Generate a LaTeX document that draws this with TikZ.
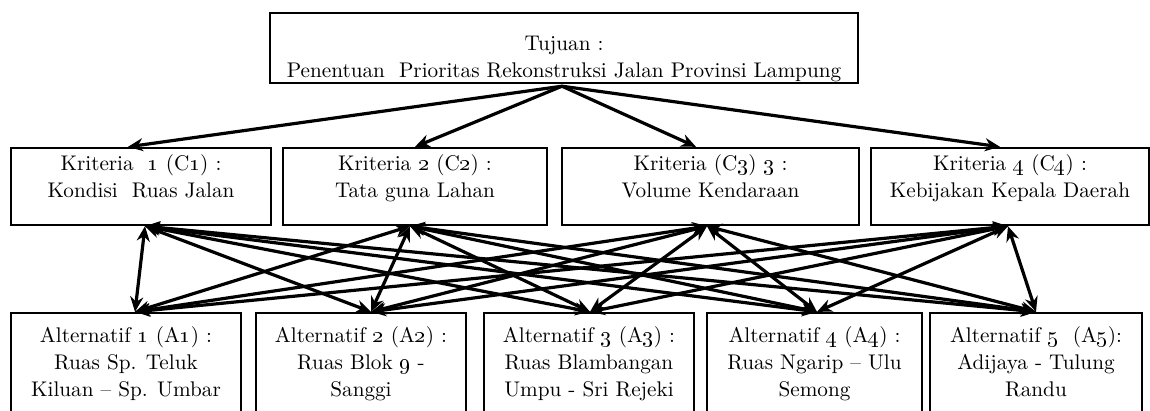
\documentclass[tikz,border=0pt]{standalone}
\usetikzlibrary{arrows.meta}
\newcommand\osn[1]{\oldstylenums{#1}}
\newcommand\txbig[1]{\scalebox{2}{\fontsize{10.6}{13.4}\selectfont\begin{tabular}{@{}c@{}}#1\end{tabular}}}
\begin{document}
\begin{tikzpicture}[x=1pt,y=-1pt,
  box/.style={draw, line width=2.4pt, inner sep=0pt},
  txt/.style={align=center, inner sep=0pt},
  arr/.style={line width=3.2pt, -{Stealth[length=15pt,width=13pt]}},
  darr/.style={line width=3.2pt, {Stealth[length=15pt,width=13pt]}-{Stealth[length=15pt,width=13pt]}}]
\clip (0,0) rectangle (1150,410);
\useasboundingbox (0,0) rectangle (1150,410);

% goal
\node[box, minimum width=588pt, minimum height=70pt] (goal) at (564,48) {};
\node[txt] (goalt) at (564,58.5) {\txbig{Tujuan :\\Penentuan\ \ Prioritas Rekonstruksi Jalan Provinsi Lampung}};

% criteria
\node[box, minimum width=260pt, minimum height=77pt] (c1) at (141,186.5) {};
\node[box, minimum width=264pt, minimum height=77pt] (c2) at (415,186.5) {};
\node[box, minimum width=297pt, minimum height=77pt] (c3) at (710.5,186.5) {};
\node[box, minimum width=278pt, minimum height=77pt] (c4) at (1010,186.5) {};
\node[txt] (c1t) at (141,179) {\txbig{Kriteria\ \ \osn{1} (C\osn{1}) :\\Kondisi\ \ Ruas Jalan}};
\node[txt] (c2t) at (415,179) {\txbig{Kriteria \osn{2} (C\osn{2}) :\\Tata guna Lahan}};
\node[txt] (c3t) at (710.5,179) {\txbig{Kriteria (C\osn{3}) \osn{3} :\\Volume Kendaraan}};
\node[txt] (c4t) at (1010,179) {\txbig{Kriteria \osn{4} (C\osn{4}) :\\Kebijakan Kepala Daerah}};

% alternatives
\node[box, minimum width=230pt, minimum height=107pt] (a1) at (126,366.5) {};
\node[box, minimum width=210pt, minimum height=107pt] (a2) at (361,366.5) {};
\node[box, minimum width=210pt, minimum height=107pt] (a3) at (589,366.5) {};
\node[box, minimum width=215pt, minimum height=107pt] (a4) at (814.5,366.5) {};
\node[box, minimum width=212pt, minimum height=107pt] (a5) at (1036,366.5) {};
\node[txt] (a1t) at (126,364) {\txbig{Alternatif \osn{1} (A\osn{1}) :\\Ruas Sp. Teluk\\Kiluan -- Sp. Umbar}};
\node[txt] (a2t) at (361,364) {\txbig{Alternatif \osn{2} (A\osn{2}) :\\Ruas Blok \osn{9} -\\Sanggi}};
\node[txt] (a3t) at (589,364) {\txbig{Alternatif \osn{3} (A\osn{3}) :\\Ruas Blambangan\\Umpu - Sri Rejeki}};
\node[txt] (a4t) at (814.5,364) {\txbig{Alternatif \osn{4} (A\osn{4}) :\\Ruas Ngarip -- Ulu\\Semong}};
\node[txt] (a5t) at (1036,364) {\txbig{Alternatif \osn{5}\ \ (A\osn{5}):\\Adijaya - Tulung\\Randu}};

% connector end points
\coordinate (gs) at ([xshift=-2pt,yshift=-2pt]goal.south);
\coordinate (c1n) at ([xshift=-13pt]c1.north);
\coordinate (c2n) at ([xshift=0pt]c2.north);
\coordinate (c3n) at ([xshift=-14.5pt]c3.north);
\coordinate (c4n) at ([xshift=-10pt]c4.north);
\coordinate (c1s) at ([xshift=4pt]c1.south);
\coordinate (c2s) at ([xshift=-5pt]c2.south);
\coordinate (c3s) at ([xshift=-3.5pt]c3.south);
\coordinate (c4s) at ([xshift=-2pt]c4.south);
\coordinate (a1n) at ([xshift=9pt]a1.north);
\coordinate (a2n) at ([xshift=10pt]a2.north);
\coordinate (a3n) at ([xshift=1pt]a3.north);
\coordinate (a4n) at ([xshift=2.5pt]a4.north);
\coordinate (a5n) at ([xshift=0pt]a5.north);

\foreach \c in {c1n,c2n,c3n,c4n} \draw[arr] (gs) -- (\c);
\foreach \c in {c1s,c2s,c3s,c4s}
  \foreach \a in {a1n,a2n,a3n,a4n,a5n}
    \draw[darr] (\c) -- (\a);
\end{tikzpicture}
\end{document}
